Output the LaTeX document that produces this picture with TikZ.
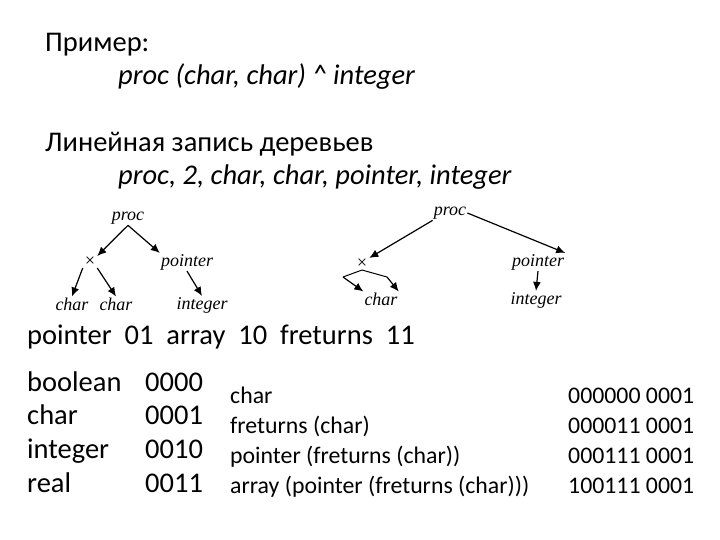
\documentclass[tikz,border=0pt]{standalone}
\usepackage{fontspec}
\setmainfont{Carlito}
\newfontfamily\treefont{Liberation Serif}
\usetikzlibrary{arrows.meta}
\begin{document}
\begin{tikzpicture}[x=1pt,y=-1pt,
  txt/.style={anchor=base west,inner sep=0pt,font=\fontsize{28.5}{32}\selectfont},
  sml/.style={anchor=base west,inner sep=0pt,font=\fontsize{23.8}{28}\selectfont},
  tr/.style={inner sep=1pt,font=\treefont\itshape\fontsize{18}{20}\selectfont},
  arr/.style={-{Latex[length=9pt,width=8pt]},line width=1.2pt}]
\useasboundingbox (0,0) rectangle (720,540);
\node[txt] (t1) at (45,52) {Пример:};
\node[txt] (t2) at (118,85) {\itshape proc (char, char) \^{} integer};
\node[txt] (t3) at (45,152) {Линейная запись деревьев};
\node[txt] (t4) at (118,185) {\itshape proc, 2, char, char, pointer, integer};
% left tree
\node[tr] (p1) at (128,218) {proc};
\node[tr] (x1) at (90,262) {×};
\node[tr] (q1) at (187,262) {pointer};
\node[tr] (c1) at (72,304) {char};
\node[tr] (c2) at (116,304) {char};
\node[tr] (i1) at (202,305) {integer};
\draw[arr] (p1.south) -- (x1.north east);
\draw[arr] (p1.south) -- (q1.north west);
\draw[arr] (x1.south west) -- (c1.north);
\draw[arr] (x1.south east) -- (c2.north);
\draw[arr] (q1.south) -- (i1.north);
% right tree
\node[tr] (p2) at (450,213) {proc};
\node[tr] (x2) at (362,264) {×};
\node[tr] (q2) at (538,262) {pointer};
\node[tr] (c3) at (381,299) {char};
\node[tr] (i2) at (536,300) {integer};
\coordinate (l2) at (343,277);
\coordinate (r2) at (387,277);
\draw[arr] (p2.south west) -- (x2.north east);
\draw[arr] (p2.east) -- (q2.north east);
\draw[line width=1pt] (x2.south) -- (l2);
\draw[line width=1pt] (x2.south) -- (r2);
\draw[arr] (l2) -- (c3.north west);
\draw[arr] (r2) -- (c3.north east);
\draw[arr] (q2.south) -- (i2.north);
\node[txt] (t5) at (27,344) {pointer\ \ 01\ \ array\ \ 10\ \ freturns\ \ 11};
\node[txt] (a1) at (27,391) {boolean};
\node[txt] (a2) at (27,424) {char};
\node[txt] (a3) at (27,458) {integer};
\node[txt] (a4) at (27,492) {real};
\node[txt] (b1) at (145,391) {0000};
\node[txt] (b2) at (145,424) {0001};
\node[txt] (b3) at (145,458) {0010};
\node[txt] (b4) at (145,492) {0011};
\node[sml] (c1x) at (230,403) {char};
\node[sml] (c2x) at (230,433) {freturns (char)};
\node[sml] (c3x) at (230,463) {pointer (freturns (char))};
\node[sml] (c4x) at (230,493) {array (pointer (freturns (char)))};
\node[sml] (d1) at (568,403) {000000 0001};
\node[sml] (d2) at (568,433) {000011 0001};
\node[sml] (d3) at (568,463) {000111 0001};
\node[sml] (d4) at (568,493) {100111 0001};
\end{tikzpicture}
\end{document}
